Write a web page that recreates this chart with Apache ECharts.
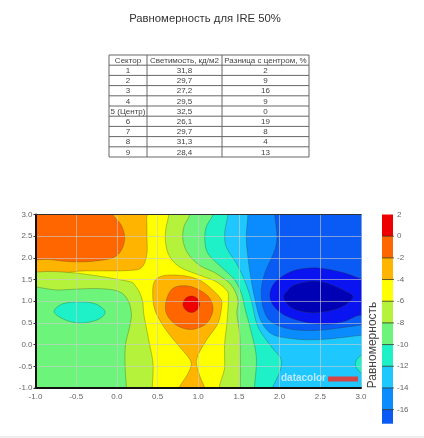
<!DOCTYPE html>
<html><head><meta charset="utf-8">
<style>html,body{margin:0;padding:0;background:#fff}#c{width:424px;height:438px;filter:blur(0.35px)}</style>
<script src="https://cdn.jsdelivr.net/npm/echarts@6/dist/echarts.min.js"></script>
</head><body><div id="c"></div>
<script>
// ---- table data ----
const tableHeader = ['Сектор', 'Светимость, кд/м2', 'Разница с центром, %'];
const sectors = ['1','2','3','4','5 (Центр)','6','7','8','9'];
const luminance = ['31,8','29,7','27,2','29,5','32,5','26,1','29,7','31,3','28,4'];
const difference = ['2','9','16','9','0','19','8','4','13'];

// ---- colour scale ----
const levelEdges = [2,0,-2,-4,-6,-8,-10,-12,-14,-16,-17.3];
const levelColors = ['#ee0000','#ff6600','#ffb400','#ffff00','#b4f23c','#6cf57a','#1ef0c8','#1ec8ff','#0a8cff','#0a5af5'];
const deepColors = ['#0a14f0','#0000b4'];

// ---- contour outlines, in data units [x, y] ----
const plotBackground = [[-2,4],[4,4],[4,-2],[-2,-2]];
const warmTopOuter = [[-1.3,3.3],[0.35,3.3],[0.366,2.9],[0.37,2.5],[0.366,2.05],[0.3,1.77],[0.15,1.71],[-0.4,1.7],[-1.3,1.68]];
const warmTopInner = [[-1.3,3.3],[-0.1,3.3],[-0.05,3],[0.055,2.75],[0.096,2.45],[0.055,2.18],[-0.03,2.02],[-0.25,1.93],[-0.54,1.91],[-0.82,1.96],[-1.3,2.06]];
const coolLeftOuter = [[-1.3,1.47],[0.117,1.47],[0.24,1.32],[0.313,1.02],[0.33,0.715],[0.36,0.41],[0.4,0.02],[0.444,-0.44],[0.435,-1],[0.43,-1.3],[-1.3,-1.3]];
const coolLeftInner = [[-1.3,1.2],[-0.7,1.26],[-0.21,1.29],[0.035,1.215],[0.137,1.02],[0.178,0.715],[0.157,0.41],[0.108,0.02],[0.1,-0.44],[0.117,-1],[0.12,-1.3],[-1.3,-1.3]];
const coolLeftCore = [[-0.771,0.754],[-0.68,0.93],[-0.456,0.985],[-0.25,0.93],[-0.145,0.754],[-0.21,0.6],[-0.415,0.5],[-0.62,0.56]];
const warmCentreOuter = [[0.46,1.45],[0.567,1.586],[0.812,1.59],[1.017,1.487],[1.18,1.256],[1.283,1.03],[1.287,0.87],[1.242,0.49],[1.1,0.1],[0.997,-0.245],[0.977,-0.43],[1.017,-0.71],[1.08,-1],[1.12,-1.3],[0.72,-1.3],[0.763,-1],[0.873,-0.67],[0.914,-0.44],[0.873,-0.28],[0.77,-0.05],[0.607,0.33],[0.485,0.715],[0.444,1.02]];
const warmCentreInner = [[0.609,1.03],[0.69,1.3],[0.854,1.356],[1.017,1.256],[1.14,1.07],[1.18,0.795],[1.1,0.49],[0.915,0.35],[0.731,0.45],[0.609,0.72]];
const warmCentreCore = [[0.812,0.93],[0.845,1.07],[0.915,1.12],[0.985,1.07],[1.017,0.93],[0.985,0.8],[0.915,0.74],[0.845,0.8]];
const coldBand1 = [[0.637,3.3],[0.637,3],[0.6,2.64],[0.6,2.33],[0.649,2.03],[0.772,1.79],[1.017,1.6],[1.22,1.45],[1.36,1.22],[1.37,1.03],[1.352,0.49],[1.325,0.03],[1.325,-0.5],[1.325,-1.3],[3.3,-1.3],[3.3,3.3]];
const coldBand2 = [[0.895,3.3],[0.895,3],[0.825,2.72],[0.812,2.41],[0.874,2.1],[1.017,1.83],[1.22,1.64],[1.406,1.37],[1.487,1.03],[1.475,0.72],[1.508,0.26],[1.517,-0.4],[1.517,-1],[1.517,-1.3],[3.3,-1.3],[3.3,3.3]];
const coldBand3 = [[1.18,3.3],[1.18,3],[1.1,2.72],[1.08,2.41],[1.12,2.1],[1.283,1.79],[1.447,1.49],[1.53,1.18],[1.58,0.79],[1.65,0.3],[1.714,-0.3],[1.69,-1],[1.69,-1.3],[3.3,-1.3],[3.3,3.3]];
const coldBand4 = [[1.38,3.3],[1.366,3],[1.325,2.56],[1.345,2.25],[1.47,1.87],[1.57,1.48],[1.652,1.02],[1.734,0.41],[1.9,-0.05],[2.02,-0.35],[2,-0.63],[1.91,-1],[1.85,-1.3],[3.3,-1.3],[3.3,3.3]];
const coldEdgePatch = [[3.2,-0.15],[3,-0.25],[2.93,-0.44],[3,-0.65],[3.2,-0.75]];
const coldBand5 = [[1.61,3.3],[1.61,3],[1.59,2.48],[1.61,2.02],[1.644,1.56],[1.69,1.1],[1.77,0.55],[1.9,0.25],[2.14,0.14],[2.47,0.115],[3,0.215],[3.3,0.3],[3.3,3.3]];
const coldBand6 = [[1.94,3.3],[1.94,3],[1.967,2.48],[1.94,2.18],[1.816,1.64],[1.775,1.25],[1.795,0.87],[1.877,0.56],[2.1,0.37],[2.47,0.33],[3,0.45],[3.3,0.5],[3.3,3.3]];
const coldBand7 = [[1.88,1.14],[1.92,1.38],[2.02,1.56],[2.18,1.71],[2.39,1.77],[2.55,1.75],[2.8,1.65],[3,1.52],[3.3,1.4],[3.3,0.6],[3,0.68],[2.8,0.54],[2.59,0.47],[2.31,0.52],[2.06,0.68],[1.92,0.91]];
const coldBand8 = [[2.05,1.1],[2.1,1.25],[2.18,1.37],[2.39,1.46],[2.55,1.43],[2.67,1.35],[2.82,1.22],[2.9,1.1],[2.76,0.87],[2.47,0.74],[2.22,0.79],[2.1,0.93]];

const plotBands = [
  {pts: plotBackground, c: levelColors[3], raw:true},
  {pts: warmTopOuter, c: levelColors[2]}, {pts: warmTopInner, c: levelColors[1]},
  {pts: coolLeftOuter, c: levelColors[4]}, {pts: coolLeftInner, c: levelColors[5]}, {pts: coolLeftCore, c: levelColors[6]},
  {pts: warmCentreOuter, c: levelColors[2]}, {pts: warmCentreInner, c: levelColors[1]}, {pts: warmCentreCore, c: levelColors[0]},
  {pts: coldBand1, c: levelColors[4]}, {pts: coldBand2, c: levelColors[5]}, {pts: coldBand3, c: levelColors[6]},
  {pts: coldBand4, c: levelColors[7]}, {pts: coldEdgePatch, c: levelColors[6]}, {pts: coldBand5, c: levelColors[8]},
  {pts: coldBand6, c: levelColors[9]}, {pts: coldBand7, c: deepColors[0]}, {pts: coldBand8, c: deepColors[1]}
];

// closed Catmull-Rom through the outline points, only to draw the curve round
function roundOutline(p) {
  const out = [], n = p.length, lerp = (a,b,t)=>[a[0]+(b[0]-a[0])*t, a[1]+(b[1]-a[1])*t];
  const d = (a,b)=>Math.max(1e-3, Math.pow(Math.hypot(a[0]-b[0], a[1]-b[1]), 0.3));
  for (let i = 0; i < n; i++) {
    const P0=p[(i-1+n)%n], P1=p[i], P2=p[(i+1)%n], P3=p[(i+2)%n];
    const t0=0, t1=t0+d(P0,P1), t2=t1+d(P1,P2), t3=t2+d(P2,P3);
    for (let s = 0; s < 12; s++) {
      const t = t1+(t2-t1)*s/12;
      const A1=lerp(P0,P1,(t-t0)/(t1-t0)), A2=lerp(P1,P2,(t-t1)/(t2-t1)), A3=lerp(P2,P3,(t-t2)/(t3-t2));
      const B1=lerp(A1,A2,(t-t0)/(t2-t0)), B2=lerp(A2,A3,(t-t1)/(t3-t1));
      out.push(lerp(B1,B2,(t-t1)/(t2-t1)));
    }
  }
  return out;
}

const FONT = '"Liberation Sans", Arial, sans-serif';
const colX = [109, 147, 222, 309];
const tableTop = 55, rowH = 10.2;
const tableGraphics = [];
const rows = [tableHeader].concat(sectors.map((s,i)=>[s, luminance[i], difference[i]]));
for (let r = 0; r <= rows.length; r++) {
  tableGraphics.push({type:'line', shape:{x1:colX[0], y1:tableTop+r*rowH, x2:colX[3], y2:tableTop+r*rowH}, style:{stroke:'#666', lineWidth:1}});
}
colX.forEach(x => tableGraphics.push({type:'line', shape:{x1:x, y1:tableTop, x2:x, y2:tableTop+rows.length*rowH}, style:{stroke:'#666', lineWidth:1}}));
rows.forEach((row, r) => row.forEach((t, c) => tableGraphics.push({
  type:'text', x:(colX[c]+colX[c+1])/2, y:tableTop+(r+0.5)*rowH+0.5,
  style:{text:t, font:'8px '+FONT, fill:'#444', textAlign:'center', textVerticalAlign:'middle'}
})));

const option = {
  animation:false,
  backgroundColor:'#fff',
  grid:[
    {left:35.5, top:214.5, width:325.5, height:173.5},
    {left:382, top:214.5, width:11, height:216.8}
  ],
  xAxis:[
    {gridIndex:0, type:'value', min:-1, max:3, interval:0.5, z:10,
     axisLine:{onZero:false, lineStyle:{color:'#111', width:2}}, axisTick:{show:false},
     axisLabel:{fontFamily:FONT, fontSize:8, color:'#666', margin:5, formatter:v=>v.toFixed(1), hideOverlap:false},
     splitLine:{show:true, lineStyle:{color:'rgba(205,205,205,0.6)', width:1}}},
    {gridIndex:1, type:'value', min:0, max:1, show:false},
    {gridIndex:0, type:'value', min:-1, max:3, position:'top', z:10,
     axisLine:{onZero:false, lineStyle:{color:'#333', width:1}}, axisTick:{show:false}, axisLabel:{show:false}, splitLine:{show:false}}
  ],
  yAxis:[
    {gridIndex:0, type:'value', min:-1, max:3, interval:0.5, z:10,
     axisLine:{onZero:false, lineStyle:{color:'#111', width:2}},
     axisTick:{show:true, length:2, lineStyle:{color:'#333'}},
     axisLabel:{fontFamily:FONT, fontSize:8, color:'#666', margin:3, formatter:v=>v.toFixed(1)},
     splitLine:{show:true, lineStyle:{color:'rgba(205,205,205,0.6)', width:1}}},
    {gridIndex:1, type:'value', min:-18, max:2, interval:2, position:'right', z:10,
     axisLine:{show:false}, axisTick:{show:false},
     axisLabel:{fontFamily:FONT, fontSize:8, color:'#666', margin:4, formatter:v=>v===-18?'':String(v)},
     splitLine:{show:false}}
  ],
  series:[
    {type:'custom', xAxisIndex:0, yAxisIndex:0, clip:true, coordinateSystem:'cartesian2d',
     data:plotBands.map((b,i)=>[i]), encode:{x:[], y:[]}, silent:true,
     renderItem:(params, api)=>{
       const b = plotBands[params.dataIndex], px = b.pts.map(p=>api.coord(p));
       return {type:'polygon', shape:{points:b.raw?px:roundOutline(px)},
               style:{fill:b.c, stroke:b.raw?null:'rgba(50,60,20,0.36)', lineWidth:0.8}};
     }},
    {type:'custom', xAxisIndex:1, yAxisIndex:1, clip:false, coordinateSystem:'cartesian2d',
     data:levelColors.map((c,i)=>[i]), encode:{x:[], y:[]}, silent:true,
     renderItem:(params, api)=>{
       const i = params.dataIndex;
       const a = api.coord([0, levelEdges[i]]), b = api.coord([1, levelEdges[i+1]]);
       return {type:'group', children:[
         {type:'rect', shape:{x:a[0], y:a[1], width:b[0]-a[0], height:b[1]-a[1]}, style:{fill:levelColors[i]}},
         {type:'line', shape:{x1:a[0], y1:a[1], x2:b[0]+1, y2:a[1]}, style:{stroke:i===0?'rgba(0,0,0,0)':'rgba(40,40,20,0.75)', lineWidth:1}}
       ]};
     }}
  ],
  graphic:{elements:tableGraphics.concat([
    {type:'text', x:205, y:18.5, style:{text:'Равномерность для IRE 50%', font:'11.3px '+FONT, fill:'#333', textAlign:'center', textVerticalAlign:'middle'}},
    {type:'text', x:281, y:378, z:100, style:{text:'datacolor', font:'bold 10px '+FONT, fill:'rgba(225,240,255,0.8)', textVerticalAlign:'middle'}},
    {type:'rect', z:100, shape:{x:328, y:376.5, width:30, height:5}, style:{fill:'#d84444'}},
    {type:'text', x:373, y:345, rotation:Math.PI/2, z:100, style:{text:'Равномерность', font:'12px '+FONT, fill:'#444', textAlign:'center', textVerticalAlign:'middle'}},
    {type:'rect', z:100, shape:{x:0, y:436, width:424, height:2}, style:{fill:'#eeeeee'}}
  ])}
};
const chart = echarts.init(document.getElementById('c'), null, {renderer:'canvas'});
chart.setOption(option);
</script></body></html>
